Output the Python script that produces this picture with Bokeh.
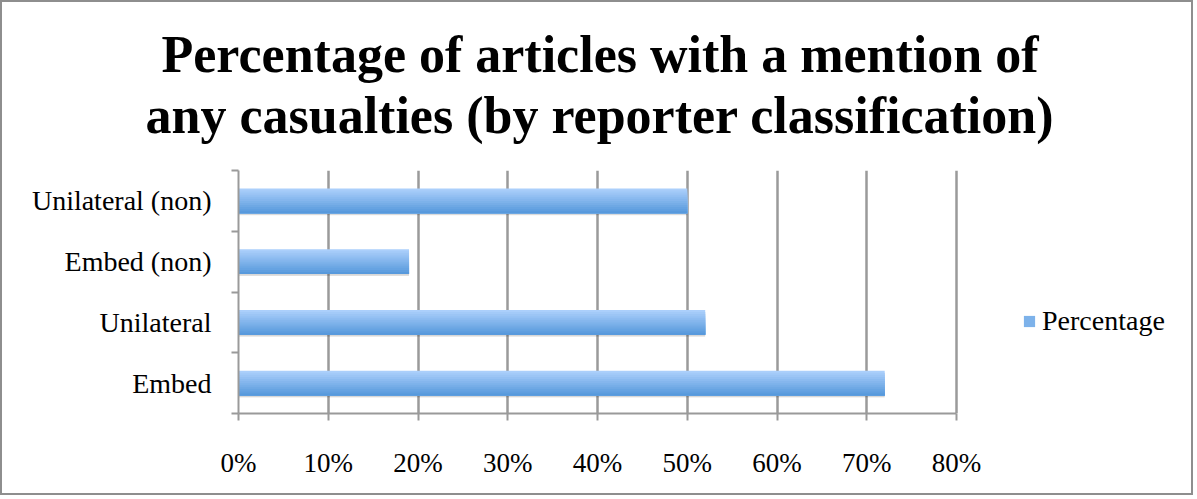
from bokeh.plotting import figure
from bokeh.models import (FixedTicker, Title, Legend, LegendItem, NumeralTickFormatter, Range1d)
from bokeh.transform import dodge
from bokeh.embed import file_html
from bokeh.resources import INLINE

# ---- data (bottom to top) ----
categories = ["Embed", "Unilateral", "Embed (non)", "Unilateral (non)"]
percentages = [0.72, 0.52, 0.19, 0.50]
x_ticks = [0.0, 0.1, 0.2, 0.3, 0.4, 0.5, 0.6, 0.7, 0.8]
title_line1 = "Percentage of articles with a mention of"
title_line2 = "any casualties (by reporter classification)"
series_name = "Percentage"

SERIF = "Liberation Serif"
GRID = "#9a9a9a"

# layout: frame spans full width (for the legend); axis/grid bounded to 0..80%
FRAME_L, FRAME_R = 236, 1189      # canvas px
AXIS_R = 954                      # canvas px where 80% sits
x_end = 0.8 * (FRAME_R - FRAME_L) / (AXIS_R - FRAME_L)

ypos = [i + 0.5 for i in range(len(categories))]
src = dict(y=ypos, v=percentages, cat=categories)

p = figure(width=1193, height=495, output_backend="svg", toolbar_location=None,
           x_range=Range1d(0, x_end), y_range=Range1d(0, len(categories)),
           min_border_left=FRAME_L, min_border_right=1193 - FRAME_R, min_border_top=168,
           min_border_bottom=84)
p.styles = {"border": "2px solid #8e8e8e"}
p.outline_line_color = None
p.background_fill_color = "white"
p.border_fill_color = "white"

# shadow
p.hbar(y=dodge("y", -0.035), left=0, right="v", height=0.40, source=src,
       fill_color="#000000", fill_alpha=0.10, line_color=None)
p.hbar(y=dodge("y", -0.05), left=0, right="v", height=0.36, source=src,
       fill_color="#000000", fill_alpha=0.06, line_color=None)

# gradient bars (top light -> bottom darker)
top = (0xab, 0xcf, 0xfb)
bot = (0x57, 0x99, 0xdc)
n = 12
h = 0.41
legend_r = None
for k in range(n):
    t = k / (n - 1)
    c = tuple(int(round(top[j] + (bot[j] - top[j]) * t)) for j in range(3))
    col = "#%02x%02x%02x" % c
    strip_top = h / 2 - k * h / n
    strip_h = strip_top + h / 2
    off = strip_top - strip_h / 2
    r = p.hbar(y=dodge("y", off), left=0, right="v", height=strip_h, source=src,
               fill_color=col, line_color=None)
    if k == n // 2:
        legend_r = r

# axes
p.xaxis.ticker = FixedTicker(ticks=x_ticks)
p.xaxis.bounds = (x_ticks[0], x_ticks[-1])
p.xaxis.formatter = NumeralTickFormatter(format="0%")
p.xaxis.major_label_text_font = SERIF
p.xaxis.major_label_text_font_size = "27px"
p.xaxis.major_label_text_color = "#000000"
p.xaxis.major_label_standoff = 27
p.xaxis.axis_line_color = GRID
p.xaxis.axis_line_width = 2
p.xaxis.major_tick_line_color = GRID
p.xaxis.major_tick_line_width = 2
p.xaxis.major_tick_out = 7
p.xaxis.major_tick_in = 0
p.xaxis.minor_tick_line_color = None

p.yaxis.ticker = FixedTicker(ticks=ypos, minor_ticks=list(range(len(categories) + 1)))
p.yaxis.major_label_overrides = {yv: c for yv, c in zip(ypos, categories)}
p.yaxis.major_label_text_font = SERIF
p.yaxis.major_label_text_font_size = "28px"
p.yaxis.major_label_text_color = "#000000"
p.yaxis.major_label_standoff = 20
p.yaxis.axis_line_color = GRID
p.yaxis.axis_line_width = 2
p.yaxis.major_tick_line_color = None
p.yaxis.minor_tick_line_color = GRID
p.yaxis.minor_tick_line_width = 2
p.yaxis.minor_tick_out = 7
p.yaxis.minor_tick_in = 0

p.xgrid.ticker = FixedTicker(ticks=x_ticks)
p.xgrid.bounds = (x_ticks[0], x_ticks[-1])
p.xgrid.grid_line_color = GRID
p.xgrid.grid_line_width = 2.5
p.ygrid.grid_line_color = None

# title: two centred lines over the 0..80% axis (left-aligned with offsets);
# a tiny blank title adds the gap between the title and the plot
gap = Title(text=" ", text_font_size="1px", standoff=22)
t2 = Title(text=title_line2, align="left", offset=-93,
           text_font=SERIF, text_font_size="52px", text_font_style="bold",
           text_color="#000000", standoff=4)
t1 = Title(text=title_line1, align="left", offset=-77,
           text_font=SERIF, text_font_size="52px", text_font_style="bold",
           text_color="#000000", standoff=0)
p.add_layout(gap, "above")
p.add_layout(t2, "above")
p.add_layout(t1, "above")

legend = Legend(items=[LegendItem(label=series_name, renderers=[legend_r])],
                location=(784, 76), label_text_font=SERIF,
                label_text_font_size="28px", label_text_color="#000000",
                glyph_width=14, glyph_height=14, border_line_color=None,
                background_fill_alpha=0, padding=0, margin=0, label_standoff=6)
p.add_layout(legend, "center")

open("out.html", "w").write(file_html(p, INLINE))
